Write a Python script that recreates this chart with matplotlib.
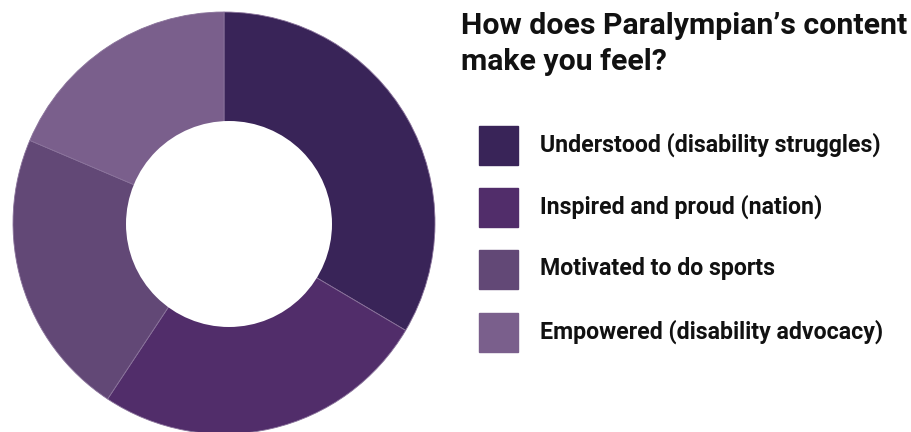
import matplotlib.pyplot as plt
from matplotlib.patches import Rectangle, Circle

# Survey answers (share of respondents, %)
feelings = [
    "Understood (disability struggles)",
    "Inspired and proud (nation)",
    "Motivated to do sports",
    "Empowered (disability advocacy)",
]
shares = [33.5, 25.8, 22.1, 18.6]
colors = ["#392458", "#512d6a", "#624876", "#7a5f8c"]

W, H = 912, 432
fig = plt.figure(figsize=(W / 100, H / 100), dpi=100)

# Donut, positioned in pixels
cx, cy, r = 224, 223, 211
ax = fig.add_axes([(cx - r) / W, (H - cy - r) / H, 2 * r / W, 2 * r / H])
ax.pie(shares, colors=colors, startangle=90, counterclock=False, radius=1,
       wedgeprops=dict(edgecolor="#8a739b", linewidth=0.6))
# hole sits slightly right of the ring centre
ax.add_patch(Circle(((229 - cx) / r, -(224 - cy) / r), 103 / r,
                    facecolor="white", edgecolor="none", zorder=5))
ax.set_xlim(-1, 1)
ax.set_ylim(-1, 1)
ax.set_aspect("equal")
ax.axis("off")

# Title
title_lines = ["How does Paralympian\u2019s content", "make you feel?"]
for i, line in enumerate(title_lines):
    fig.text(461 / W, 1 - (26 + 36 * i) / H, line, fontsize=21.8,
             fontweight="bold", family="Roboto", color="#111111",
             va="center", ha="left")

# Legend
box_y = [126, 188, 250, 313]
for label, col, y in zip(feelings, colors, box_y):
    fig.patches.append(Rectangle((479 / W, 1 - (y + 39) / H), 39 / W, 39 / H,
                                 transform=fig.transFigure, color=col))
    fig.text(540 / W, 1 - (y + 19) / H, label, fontsize=16.7, fontweight="bold",
             family="Roboto", color="#111111", va="center", ha="left")

fig.savefig("out.png", dpi=100)
